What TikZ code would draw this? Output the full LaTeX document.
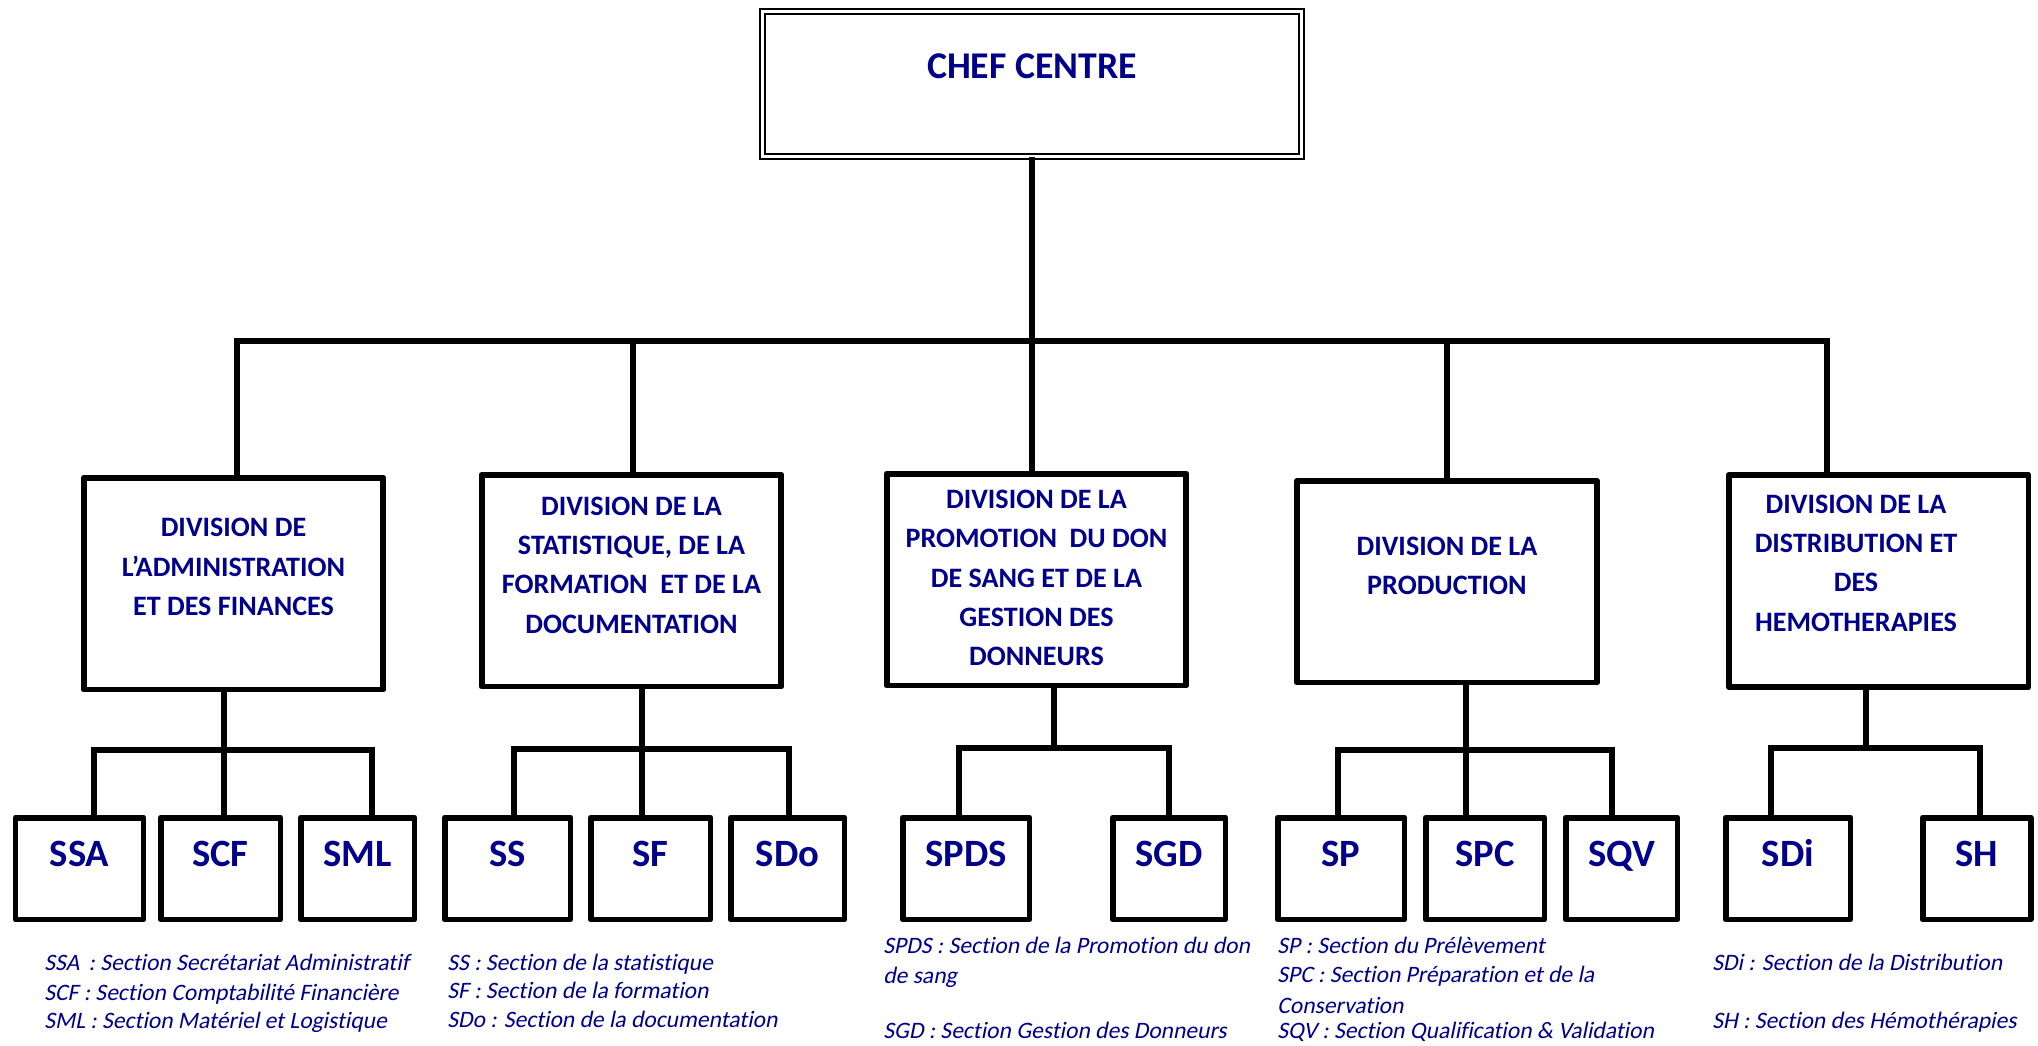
\documentclass[tikz,border=0pt]{standalone}
\usepackage{fontspec}
\setmainfont{Carlito}[Ligatures=NoCommon]
\newfontfamily\legendfont{Carlito}[FakeSlant=0.2,Ligatures=NoCommon]
\definecolor{orgblue}{RGB}{0,0,139}

\begin{document}
\begin{tikzpicture}[x=0.02cm,y=-0.02cm,
	chefbox/.style={draw, double, double distance=1.4pt, line width=1.1pt,
		minimum width=10.78cm, minimum height=2.9cm},
	cheftext/.style={text=orgblue, font=\fontsize{21.5}{21.5}\selectfont\bfseries},
	divbox/.style={draw, line width=3.4pt, line join=round,
		minimum width=6cm, minimum height=4.24cm},
	divtext/.style={align=center, text=orgblue,
		font=\fontsize{16}{22.4}\selectfont\bfseries},
	secbox/.style={draw, line width=3.4pt, line join=round,
		minimum height=2.04cm, text height=0.5cm, text depth=0.6cm,
		text=orgblue, font=\fontsize{22}{22}\selectfont\bfseries},
	legend/.style={anchor=base west, inner sep=0pt, text=orgblue,
		font=\legendfont\fontsize{13.4}{15}\selectfont},
	link/.style={line width=3pt},
]
\useasboundingbox (0,0) rectangle (2038,1045);

%Chef Centre
\node [chefbox]  (chef)at (1032,84) {};
\node [cheftext]  (cheftext)at (1032,66) {CHEF CENTRE};

%Divisions
\node [divbox]  (adm)at (233.5,583.5) {};
\node [divtext]  (admtext)at (233.5,567) {DIVISION DE\\L’ADMINISTRATION\\ET DES FINANCES};

\node [divbox]  (stat)at (631.5,580.5) {};
\node [divtext]  (stattext)at (631.5,565) {DIVISION DE LA\\STATISTIQUE, DE LA\\FORMATION ~ET DE LA\\DOCUMENTATION};

\node [divbox]  (prom)at (1036.5,579.5) {};
\node [divtext]  (promtext)at (1036.5,578) {DIVISION DE LA\\PROMOTION ~DU DON\\DE SANG ET DE LA\\GESTION DES\\DONNEURS};

\node [divbox, minimum height=4.04cm]  (prod)at (1447,581.5) {};
\node [divtext]  (prodtext)at (1447,566) {DIVISION DE LA\\PRODUCTION};

\node [divbox]  (dist)at (1878.5,581) {};
\node [divtext]  (disttext)at (1856,563) {DIVISION DE LA\\DISTRIBUTION ET\\DES\\HEMOTHERAPIES};

%Main bus
\coordinate (b1) at (237,341);
\coordinate (b2) at (633,341);
\coordinate (b4) at (1447,341);
\coordinate (b5) at (1827,341);
\draw [link] (b1 |- adm.north) -- (b1) -- (b5) -- (b5 |- dist.north);
\draw [link] (chef.south) -- (chef.south |- prom.north);
\draw [link] (b2) -- (b2 |- stat.north);
\draw [link] (b4) -- (b4 |- prod.north);

%Sections
\node [secbox, minimum width=2.56cm]  (ssa)at (79.5,868.5) {SSA};
\node [secbox, minimum width=2.4cm]  (scf)at (220.5,868.5) {SCF};
\node [secbox, minimum width=2.28cm]  (sml)at (357.5,868.5) {SML};

\node [secbox, minimum width=2.52cm]  (ss)at (507.5,868.5) {SS};
\node [secbox, minimum width=2.4cm]  (sf)at (650.5,868.5) {SF};
\node [secbox, minimum width=2.28cm]  (sdo)at (787.5,868.5) {SDo};

\node [secbox, minimum width=2.54cm]  (spds)at (966,868.5) {SPDS};
\node [secbox, minimum width=2.26cm]  (sgd)at (1169,868.5) {SGD};

\node [secbox, minimum width=2.54cm]  (sp)at (1341,868.5) {SP};
\node [secbox, minimum width=2.38cm]  (spc)at (1485,868.5) {SPC};
\node [secbox, minimum width=2.24cm]  (sqv)at (1621.5,868.5) {SQV};

\node [secbox, minimum width=2.5cm]  (sdi)at (1788,868.5) {SDi};
\node [secbox, minimum width=2.16cm]  (sh)at (1976.5,868.5) {SH};

%Section buses
\coordinate (s1a) at (94,750);
\coordinate (s1b) at (224,750);
\coordinate (s1c) at (372,750);
\draw [link] (ssa.north -| s1a) -- (s1a) -- (s1c) -- (s1c |- sml.north);
\draw [link] (s1b |- adm.south) -- (s1b |- scf.north);

\coordinate (s2a) at (514,749);
\coordinate (s2b) at (642,749);
\coordinate (s2c) at (789,749);
\draw [link] (ss.north -| s2a) -- (s2a) -- (s2c) -- (s2c |- sdo.north);
\draw [link] (s2b |- stat.south) -- (s2b |- sf.north);

\coordinate (s3a) at (959,748);
\coordinate (s3b) at (1054,748);
\coordinate (s3c) at (1169,748);
\draw [link] (spds.north -| s3a) -- (s3a) -- (s3c) -- (s3c |- sgd.north);
\draw [link] (s3b |- prom.south) -- (s3b);

\coordinate (s4a) at (1338,750);
\coordinate (s4b) at (1466,750);
\coordinate (s4c) at (1612,750);
\draw [link] (sp.north -| s4a) -- (s4a) -- (s4c) -- (s4c |- sqv.north);
\draw [link] (s4b |- prod.south) -- (s4b |- spc.north);

\coordinate (s5a) at (1771,748);
\coordinate (s5b) at (1866,748);
\coordinate (s5c) at (1980,748);
\draw [link] (sdi.north -| s5a) -- (s5a) -- (s5c) -- (s5c |- sh.north);
\draw [link] (s5b |- dist.south) -- (s5b);

%Legend
\node [legend]  (leg1a)at (44,970) {SSA \,: Section Secrétariat Administratif};
\node [legend]  (leg1b)at (44,1000) {SCF : Section Comptabilité Financière};
\node [legend]  (leg1c)at (44,1028) {SML : Section Matériel et Logistique};

\node [legend]  (leg2a)at (447,970) {SS : Section de la statistique};
\node [legend]  (leg2b)at (447,998) {SF : Section de la formation};
\node [legend]  (leg2c)at (447,1027) {SDo : Section de la documentation};

\node [legend]  (leg3a)at (883,953) {SPDS : Section de la Promotion du don};
\node [legend]  (leg3b)at (883,983) {de sang};
\node [legend]  (leg3c)at (883,1038) {SGD : Section Gestion des Donneurs};

\node [legend]  (leg4a)at (1277,953) {SP : Section du Prélèvement};
\node [legend]  (leg4b)at (1277,982) {SPC : Section Préparation et de la};
\node [legend]  (leg4c)at (1277,1013) {Conservation};
\node [legend]  (leg4d)at (1277,1038) {SQV : Section Qualification \& Validation};

\node [legend]  (leg5a)at (1712,970) {SDi : Section de la Distribution};
\node [legend]  (leg5b)at (1712,1028) {SH : Section des Hémothérapies};

\end{tikzpicture}
\end{document}
